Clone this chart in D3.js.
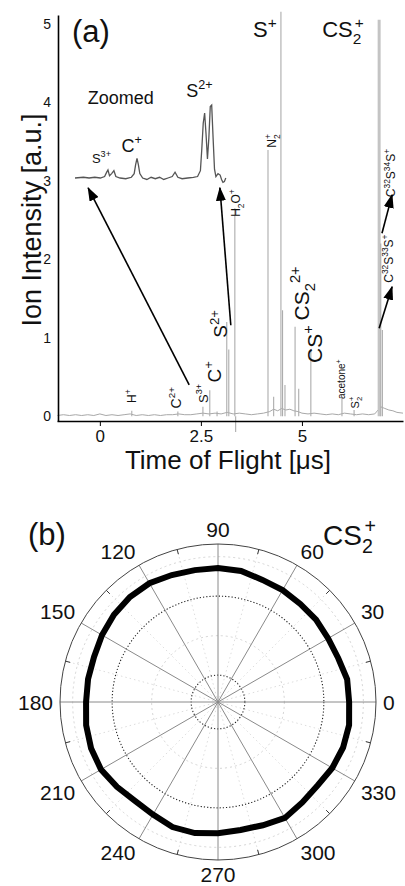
<!DOCTYPE html>
<html lang="en">
<head>
<meta charset="utf-8">
<script src="https://d3js.org/d3.v7.min.js"></script>
<style>
  body { margin: 0; background: #fff; }
  svg text { font-family: "Liberation Sans", Arial, Helvetica, sans-serif; fill: #111; }
</style>
</head>
<body>
<script>
// ---------- panel (a): time-of-flight spectrum ----------
const peakTimes   = [0.79, 1.93, 2.55, 2.72, 2.90, 3.14, 3.19, 3.34, 3.36, 4.16, 4.30, 4.48, 4.52, 4.58, 4.83, 4.92, 5.22, 5.99, 6.29, 6.91, 6.95, 6.99];
const peakHeights = [0.07, 0.06, 0.12, 0.33, 0.06, 1.20, 0.85, 2.65, -0.20, 3.39, 0.25, 5.15, 1.35, 0.40, 1.14, 0.35, 0.84, 0.24, 0.08, 5.05, 2.20, 1.10];

// baseline noise of the trace
const noiseTimes  = [-1.05, -0.9, -0.75, -0.6, -0.45, -0.3, -0.15, 0, 0.15, 0.3, 0.45, 0.6, 0.75, 0.9, 1.05, 1.2, 1.35, 1.5, 1.65, 1.8, 1.95, 2.1, 2.25, 2.4, 2.55, 2.7, 2.85, 3.0, 3.15, 3.3, 3.45, 3.6, 3.75, 3.9, 4.05, 4.2, 4.3, 4.4, 4.5, 4.6, 4.7, 4.8, 4.9, 5.0, 5.15, 5.3, 5.45, 5.6, 5.75, 5.9, 6.05, 6.2, 6.35, 6.5, 6.65, 6.8, 6.95, 7.05, 7.15, 7.25, 7.35, 7.5];
const noiseValues = [0.01, 0.02, 0.01, 0.02, 0.01, 0.02, 0.01, 0.03, 0.01, 0.02, 0.01, 0.02, 0.03, 0.01, 0.02, 0.01, 0.02, 0.01, 0.02, 0.02, 0.03, 0.02, 0.02, 0.03, 0.04, 0.03, 0.04, 0.03, 0.05, 0.03, 0.04, 0.03, 0.02, 0.03, 0.04, 0.06, 0.09, 0.07, 0.10, 0.08, 0.09, 0.07, 0.06, 0.04, 0.03, 0.04, 0.03, 0.02, 0.03, 0.02, 0.04, 0.03, 0.02, 0.03, 0.02, 0.03, 0.12, 0.10, 0.08, 0.07, 0.05, 0.04];

// zoomed inset trace (µs, relative intensity)
const insetTimes  = [2.20, 2.26, 2.30, 2.34, 2.38, 2.41, 2.425, 2.434, 2.445, 2.46, 2.476, 2.49, 2.52, 2.56, 2.60, 2.62, 2.63, 2.64, 2.65, 2.66, 2.68, 2.71, 2.74, 2.77, 2.80, 2.83, 2.86, 2.89, 2.91, 2.93, 2.96, 3.00, 3.04, 3.07, 3.09, 3.10, 3.11, 3.12, 3.13, 3.14, 3.15, 3.16, 3.17, 3.18, 3.19, 3.20, 3.215, 3.23, 3.24, 3.25, 3.26, 3.27];
const insetValues = [0.00, 0.01, 0.00, 0.01, 0.00, 0.02, 0.08, 0.11, 0.03, 0.06, 0.10, 0.02, 0.00, -0.01, 0.01, 0.06, 0.18, 0.27, 0.18, 0.06, 0.00, -0.02, 0.01, -0.01, 0.01, -0.02, 0.00, 0.02, 0.08, 0.01, -0.01, 0.00, 0.01, 0.02, 0.10, 0.40, 0.75, 0.89, 0.60, 0.26, 0.55, 0.98, 1.00, 0.55, 0.12, 0.02, 0.06, 0.04, -0.02, -0.06, -0.05, 0.00];

const xTicks = [0, 2.5, 5];
const yTicks = [0, 1, 2, 3, 4, 5];

// ---------- panel (b): angular distribution of CS2+ ----------
const polarAngles = [0, 10, 20, 30, 40, 50, 60, 70, 80, 90, 100, 110, 120, 130, 140, 150, 160, 170, 180, 190, 200, 210, 220, 230, 240, 250, 260, 270, 280, 290, 300, 310, 320, 330, 340, 350];
const polarValues = [3.64, 3.64, 3.56, 3.54, 3.56, 3.56, 3.59, 3.61, 3.69, 3.71, 3.71, 3.74, 3.79, 3.79, 3.76, 3.71, 3.66, 3.66, 3.66, 3.71, 3.74, 3.74, 3.66, 3.59, 3.61, 3.69, 3.69, 3.64, 3.61, 3.64, 3.71, 3.64, 3.61, 3.66, 3.69, 3.69];
const spokeAngles = [0, 30, 60, 90, 120, 150, 180, 210, 240, 270, 300, 330];
const ringValues = [1, 2, 3, 4];

const svg = d3.select("body").append("svg").attr("width", 405).attr("height", 886);

// text with super/subscripts: parts = [text, kind, dx(em)]
function rich(sel, parts, fs) {
  let shift = 0;
  parts.forEach(([t, k, dx]) => {
    const target = k === "sup" ? -0.42 * fs : k === "sub" ? 0.3 * fs : 0;
    const ts = sel.append("tspan").text(t).attr("dy", target - shift);
    if (k !== "n") ts.attr("font-size", fs * 0.7);
    if (dx) ts.attr("dx", dx * fs);
    shift = target;
  });
}

// ---------------- (a) ----------------
const x = d3.scaleLinear().domain([-1.06, 7.5]).range([57, 403]);
const y = d3.scaleLinear().domain([-0.06, 5.11]).range([421, 15]);
const ga = svg.append("g");

// baseline trace
ga.append("path")
  .datum(noiseTimes.map((t, i) => [t, noiseValues[i]]))
  .attr("fill", "none").attr("stroke", "#a8a8a8").attr("stroke-width", 1)
  .attr("d", d3.line().x(d => x(d[0])).y(d => y(d[1])));

// peaks
ga.selectAll(".peak").data(peakTimes.map((t, i) => ({ t, h: peakHeights[i] })))
  .join("line").attr("class", "peak")
  .attr("x1", d => x(d.t)).attr("x2", d => x(d.t))
  .attr("y1", y(0)).attr("y2", d => y(d.h))
  .attr("stroke", d => d.h > 5 && d.t > 6 ? "#c4c4c4" : "#acacac")
  .attr("stroke-width", d => d.h > 5 && d.t > 6 ? 3 : 1.1);

// axes
const xAxis = ga.append("g").attr("transform", "translate(0,421)")
  .call(d3.axisBottom(x).tickValues(xTicks).tickSize(5).tickSizeOuter(0).tickPadding(4).tickFormat(d3.format("")));
xAxis.select(".domain").attr("stroke", "#000").attr("stroke-width", 1.6);
xAxis.selectAll("text").attr("font-size", 17).attr("fill", "#111");
const yAxis = ga.append("g").attr("transform", "translate(58,0)")
  .call(d3.axisLeft(y).tickValues(yTicks).tickSize(0).tickPadding(7).tickSizeOuter(0).tickFormat(d3.format("d")));
yAxis.select(".domain").attr("stroke", "#000").attr("stroke-width", 1.6);
yAxis.selectAll("text").attr("font-size", 14).attr("fill", "#111");

ga.append("text").attr("x", 228).attr("y", 469).attr("text-anchor", "middle")
  .attr("font-size", 26).text("Time of Flight [\u03bcs]");
ga.append("text").attr("transform", "translate(41,220) rotate(-90)").attr("text-anchor", "middle")
  .attr("font-size", 27).text("Ion Intensity [a.u.]");

ga.append("text").attr("x", x(-0.69)).attr("y", y(4.76)).attr("font-size", 31).text("(a)");

// horizontal peak labels
const topLabels = [
  { t: 3.79, v: 4.83, fs: 22, parts: [["S", "n"], ["+", "sup"]] },
  { t: 5.50, v: 4.83, fs: 22, parts: [["CS", "n"], ["2", "sub"], ["+", "sup", -0.3]] }
];
topLabels.forEach(l => {
  const tx = ga.append("text").attr("x", x(l.t)).attr("y", y(l.v)).attr("font-size", l.fs);
  rich(tx, l.parts, l.fs);
});

// rotated peak labels (anchored at bottom end)
const sideLabels = [
  { t: 0.79, v: 0.17, fs: 12, parts: [["H", "n"], ["+", "sup"]] },
  { t: 1.88, v: 0.10, fs: 14, parts: [["C", "n"], ["2+", "sup"]] },
  { t: 2.55, v: 0.17, fs: 13, parts: [["S", "n"], ["3+", "sup"]] },
  { t: 2.82, v: 0.43, fs: 19, parts: [["C", "n"], ["+", "sup"]] },
  { t: 2.97, v: 1.00, fs: 19, parts: [["S", "n"], ["2+", "sup"]] },
  { t: 3.37, v: 2.54, fs: 12, parts: [["H", "n"], ["2", "sub"], ["O", "n"], ["+", "sup"]] },
  { t: 4.26, v: 3.42, fs: 12, parts: [["N", "n"], ["2", "sub"], ["+", "sup", -0.38]] },
  { t: 4.98, v: 1.22, fs: 21, parts: [["CS", "n"], ["2", "sub"], ["2+", "sup"]] },
  { t: 5.30, v: 0.68, fs: 21, parts: [["CS", "n"], ["+", "sup"]] },
  { t: 5.97, v: 0.22, fs: 10, parts: [["acetone", "n"], ["+", "sup"]] },
  { t: 6.31, v: 0.10, fs: 11, parts: [["S", "n"], ["2", "sub"], ["+", "sup", -0.38]] },
  { t: 7.15, v: 1.70, fs: 12, parts: [["C", "n"], ["32", "sup"], ["S", "n"], ["33", "sup"], ["S", "n"], ["+", "sup"]] },
  { t: 7.20, v: 2.79, fs: 12, parts: [["C", "n"], ["32", "sup"], ["S", "n"], ["34", "sup"], ["S", "n"], ["+", "sup"]] }
];
sideLabels.forEach(l => {
  const tx = ga.append("text")
    .attr("transform", `translate(${x(l.t) + 0.36 * l.fs},${y(l.v)}) rotate(-90)`)
    .attr("font-size", l.fs);
  rich(tx, l.parts, l.fs);
});

// zoomed inset
const xi = d3.scaleLinear().domain([2.2, 3.3]).range([75, 230]);
const yi = d3.scaleLinear().domain([0, 1]).range([178, 105]);
ga.append("path")
  .datum(insetTimes.map((t, i) => [t, insetValues[i]]))
  .attr("fill", "none").attr("stroke", "#555").attr("stroke-width", 1.3)
  .attr("d", d3.line().x(d => xi(d[0])).y(d => yi(d[1])));
const insetLabels = [
  { t: 2.29, v: 1.01, fs: 18, parts: [["Zoomed", "n"]] },
  { t: 2.32, v: 0.21, fs: 13, parts: [["S", "n"], ["3+", "sup"]] },
  { t: 2.53, v: 0.36, fs: 18, parts: [["C", "n"], ["+", "sup"]] },
  { t: 2.99, v: 1.11, fs: 18, parts: [["S", "n"], ["2+", "sup"]] }
];
insetLabels.forEach(l => {
  const tx = ga.append("text").attr("x", xi(l.t)).attr("y", yi(l.v)).attr("font-size", l.fs).attr("fill", "#222");
  rich(tx, l.parts, l.fs);
});

// arrows (data coords: tail t, v -> tip t, v)
svg.append("defs").append("marker").attr("id", "head")
  .attr("markerUnits", "userSpaceOnUse").attr("markerWidth", 14).attr("markerHeight", 10)
  .attr("refX", 13).attr("refY", 5).attr("orient", "auto")
  .append("path").attr("d", "M0,0 L14,5 L0,10 Z").attr("fill", "#000");
const arrows = [[2.21, 0.40, -0.29, 2.91], [3.24, 1.16, 2.97, 2.91], [6.91, 1.12, 7.23, 1.65], [6.98, 2.33, 7.23, 2.82]];
ga.selectAll(".arrow").data(arrows).join("line").attr("class", "arrow")
  .attr("x1", d => x(d[0])).attr("y1", d => y(d[1]))
  .attr("x2", d => x(d[2])).attr("y2", d => y(d[3]))
  .attr("stroke", "#000").attr("stroke-width", 1.6).attr("marker-end", "url(#head)");

// ---------------- (b) ----------------
const cx = 218, cy = 702, R = 158;
const r = d3.scaleLinear().domain([0.32, 4.32]).range([0, R]);
const gb = svg.append("g").attr("transform", `translate(${cx},${cy})`);
const rad = a => a * Math.PI / 180;

// faint minor spokes and ticks
const minorAngles = spokeAngles.map(a => a + 15);
gb.selectAll(".minor").data(minorAngles).join("line")
  .attr("x1", 0).attr("y1", 0)
  .attr("x2", d => R * Math.cos(rad(d))).attr("y2", d => -R * Math.sin(rad(d)))
  .attr("stroke", "#d4d4d4").attr("stroke-width", 0.8).attr("stroke-dasharray", "1.5,3");
gb.selectAll(".tick").data(minorAngles).join("line")
  .attr("x1", d => (R - 5) * Math.cos(rad(d))).attr("y1", d => -(R - 5) * Math.sin(rad(d)))
  .attr("x2", d => R * Math.cos(rad(d))).attr("y2", d => -R * Math.sin(rad(d)))
  .attr("stroke", "#333").attr("stroke-width", 1);

// rings
gb.selectAll(".ring").data(ringValues).join("circle")
  .attr("r", d => r(d)).attr("fill", "none")
  .attr("stroke", d => d % 2 ? "#222" : "#cfcfcf")
  .attr("stroke-width", d => d % 2 ? 1.1 : 0.9)
  .attr("stroke-dasharray", d => d % 2 ? "1.2,2" : "2,3");

// spokes
gb.selectAll(".spoke").data(spokeAngles).join("line")
  .attr("x1", 0).attr("y1", 0)
  .attr("x2", d => R * Math.cos(rad(d))).attr("y2", d => -R * Math.sin(rad(d)))
  .attr("stroke", "#8a8a8a").attr("stroke-width", 1);
gb.append("circle").attr("r", R).attr("fill", "none").attr("stroke", "#444").attr("stroke-width", 1);

// angle labels
gb.selectAll(".alabel").data(spokeAngles).join("text")
  .attr("x", d => (R + 7) * Math.cos(rad(d)))
  .attr("y", d => -(R + 6) * Math.sin(rad(d)))
  .attr("font-size", 21)
  .attr("text-anchor", d => { const c = Math.cos(rad(d)); return c > 0.1 ? "start" : c < -0.1 ? "end" : "middle"; })
  .attr("dy", d => { const s = Math.sin(rad(d)); return s > 0.1 ? "-0.05em" : s < -0.1 ? "0.74em" : "0.36em"; })
  .text(d => d);

// data curve
gb.append("path")
  .datum(polarAngles.map((a, i) => [a, polarValues[i]]))
  .attr("fill", "none").attr("stroke", "#000").attr("stroke-width", 6).attr("stroke-linejoin", "miter")
  .attr("d", d3.lineRadial().angle(d => rad(90 - d[0])).radius(d => r(d[1])).curve(d3.curveLinearClosed));

svg.append("text").attr("x", 28).attr("y", 545).attr("font-size", 31).text("(b)");
const cs = svg.append("text").attr("x", 323).attr("y", 545).attr("font-size", 28);
rich(cs, [["CS", "n"], ["2", "sub"], ["+", "sup", -0.3]], 28);
</script>
</body>
</html>
